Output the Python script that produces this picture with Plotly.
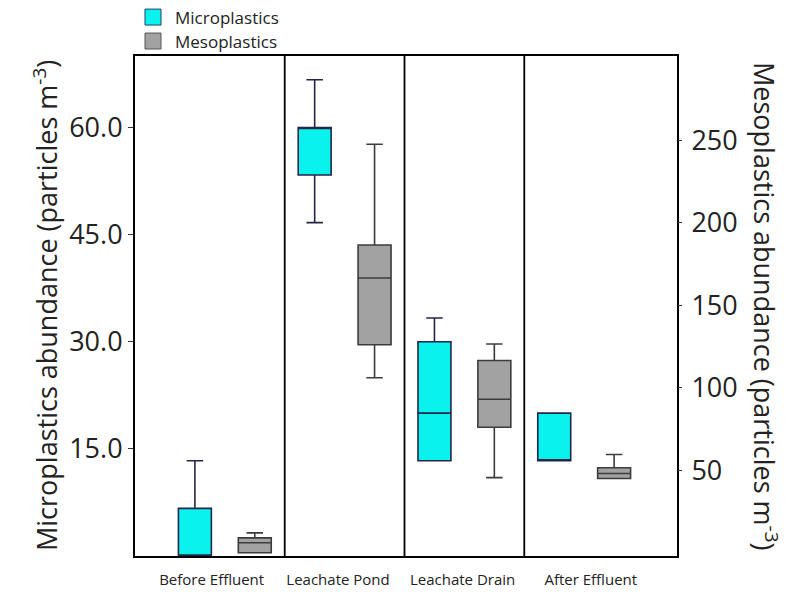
import plotly.graph_objects as go

# Sampling sites and box statistics (particles m^-3)
sites = ["Before Effluent", "Leachate Pond", "Leachate Drain", "After Effluent"]

micro_low = [0.0, 46.67, 13.33, 13.33]
micro_q1 = [0.0, 53.33, 13.33, 13.33]
micro_med = [0.0, 60.0, 20.0, 13.33]
micro_q3 = [6.67, 60.0, 30.0, 20.0]
micro_high = [13.33, 66.67, 33.33, 20.0]

meso_low = [0.0, 106.0, 45.5, 45.0]
meso_q1 = [0.0, 126.0, 76.0, 45.0]
meso_med = [6.0, 166.5, 93.0, 48.0]
meso_q3 = [9.0, 186.5, 116.5, 51.5]
meso_high = [12.0, 247.5, 126.5, 59.5]

left_ticks = [15.0, 30.0, 45.0, 60.0]
right_ticks = [50, 100, 150, 200, 250]

# each site gets two slots: microplastics then mesoplastics
micro_x = [2 * i for i in range(len(sites))]
meso_x = [2 * i + 1 for i in range(len(sites))]

FONT = "Open Sans"
CYAN = "#0AF2EE"
GREY = "#A2A2A2"

fig = go.Figure()
fig.add_trace(go.Box(
    x=micro_x, q1=micro_q1, median=micro_med, q3=micro_q3,
    lowerfence=micro_low, upperfence=micro_high,
    name="Microplastics", yaxis="y", width=0.55, whiskerwidth=0.5,
    fillcolor=CYAN, line=dict(color="#25254a", width=1.6),
    boxpoints=False, showlegend=False,
))
fig.add_trace(go.Box(
    x=meso_x, q1=meso_q1, median=meso_med, q3=meso_q3,
    lowerfence=meso_low, upperfence=meso_high,
    name="Mesoplastics", yaxis="y2", width=0.55, whiskerwidth=0.5,
    fillcolor=GREY, line=dict(color="#3c3c3c", width=1.6),
    boxpoints=False, showlegend=False,
))

# vertical separators between sites
for i in range(len(sites) - 1):
    sep = (meso_x[i] + micro_x[i + 1]) / 2
    fig.add_shape(type="line", xref="x", yref="paper", x0=sep, x1=sep, y0=0, y1=1,
                  line=dict(color="black", width=1.8))

# hand-drawn legend above the plot
legend_items = [("Microplastics", CYAN, "#1f3f6a"), ("Mesoplastics", GREY, "#555555")]
for k, (label, fill, edge) in enumerate(legend_items):
    y0 = 9 + 24 * k
    fig.add_shape(type="rect", xref="paper", yref="paper",
                  x0=(145 - 135) / 542, x1=(161 - 135) / 542,
                  y0=1 + (56 - y0) / 501, y1=1 + (56 - y0 - 16) / 501,
                  fillcolor=fill, line=dict(color=edge, width=1))
    fig.add_annotation(text=label, xref="paper", yref="paper",
                       x=(173 - 135) / 542, y=1 + (56 - y0 - 8) / 501,
                       xanchor="left", yanchor="middle", showarrow=False,
                       font=dict(family=FONT, size=17, color="#222"))

# axis titles
fig.add_annotation(text="Microplastics abundance (particles m<sup>-3</sup>)",
                   xref="paper", yref="paper", x=(45 - 135) / 542, y=0.5,
                   textangle=-90, showarrow=False, xanchor="center", yanchor="middle",
                   font=dict(family=FONT, size=27, color="#222"))
fig.add_annotation(text="Mesoplastics abundance (particles m<sup>-3</sup>)",
                   xref="paper", yref="paper", x=(766 - 135) / 542, y=0.5,
                   textangle=90, showarrow=False, xanchor="center", yanchor="middle",
                   font=dict(family=FONT, size=27, color="#222"))

fig.update_layout(
    width=786, height=594,
    margin=dict(l=135, r=109, t=56, b=38),
    paper_bgcolor="white", plot_bgcolor="white",
    font=dict(family=FONT, color="#222"),
    boxmode="overlay",
    xaxis=dict(range=[-1, 8.05], showgrid=False, zeroline=False, automargin=False,
               showline=True, linecolor="black", linewidth=2, mirror=True,
               tickvals=[0.28, 2.39, 4.47, 6.61], ticktext=sites,
               ticks="", ticklabelstandoff=9,
               tickfont=dict(family=FONT, size=15, color="#222")),
    yaxis=dict(range=[0, 70], tickvals=left_ticks, automargin=False,
               ticktext=[f"{v:.1f}" for v in left_ticks],
               showgrid=False, zeroline=False,
               showline=True, linecolor="black", linewidth=2, mirror=True,
               ticks="outside", ticklen=5, tickcolor="#333",
               tickfont=dict(family=FONT, size=27, color="#222")),
    yaxis2=dict(range=[-2, 301], overlaying="y", side="right", automargin=False,
                tickvals=right_ticks, showgrid=False, zeroline=False,
                showline=False, ticks="outside", ticklen=4, tickcolor="#333",
                ticklabelstandoff=4,
                tickfont=dict(family=FONT, size=27, color="#222")),
)

fig.write_html("out.html")
